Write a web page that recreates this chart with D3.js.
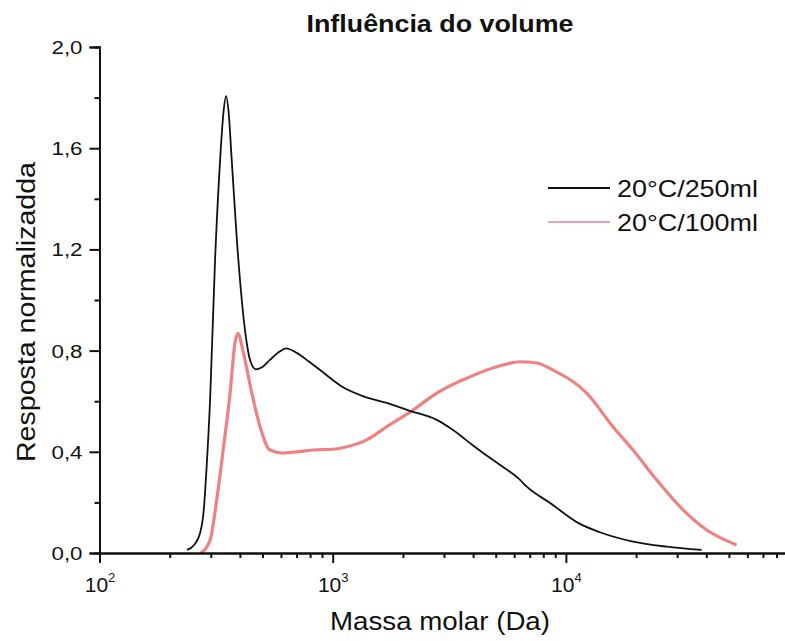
<!DOCTYPE html>
<html>
<head>
<meta charset="utf-8">
<script src="https://cdn.jsdelivr.net/npm/d3@7"></script>
<style>
html,body{margin:0;padding:0;background:#fff;}
svg{display:block;overflow:hidden;}
text{font-family:"Liberation Sans",Arial,sans-serif;fill:#111;}
</style>
</head>
<body>
<svg id="chart" width="785" height="641"></svg>
<script>
// ---- data ----
const title = "Influência do volume";
const xLabel = "Massa molar (Da)";
const yLabel = "Resposta normalizadda";
const seriesNames = ["20°C/250ml", "20°C/100ml"];
const seriesColors = ["#111111", "#ee8282"];

const mass250 = [237, 255, 270, 280, 288, 298, 313, 329, 340, 349, 358, 369, 394, 428, 442, 469, 500, 538, 590, 631, 701, 790, 883, 1107, 1349, 1705, 2145, 2792, 3280, 3998, 4575, 5221, 6357, 6795, 8551, 11490, 13990, 19400, 27070, 38200];
const resp250 = [0.012, 0.033, 0.079, 0.17, 0.341, 0.605, 1.158, 1.553, 1.74, 1.806, 1.74, 1.553, 1.158, 0.830, 0.763, 0.726, 0.735, 0.763, 0.795, 0.809, 0.791, 0.757, 0.723, 0.655, 0.62, 0.593, 0.562, 0.526, 0.486, 0.425, 0.385, 0.348, 0.289, 0.262, 0.198, 0.115, 0.082, 0.045, 0.025, 0.012];

const mass100 = [272, 298, 318, 339, 363, 381, 392, 414, 450, 488, 538, 612, 700, 823, 1000, 1149, 1400, 1705, 2210, 2792, 3880, 5375, 6357, 7497, 8810, 12280, 15920, 19400, 24500, 30830, 40180, 53950];
const resp100 = [0.0, 0.051, 0.209, 0.407, 0.632, 0.830, 0.868, 0.791, 0.632, 0.499, 0.407, 0.395, 0.400, 0.407, 0.410, 0.420, 0.447, 0.499, 0.565, 0.632, 0.697, 0.743, 0.756, 0.751, 0.723, 0.632, 0.499, 0.407, 0.289, 0.183, 0.091, 0.032];

const xMajorTicks = [100, 1000, 10000];
const xMajorLabels = ["2", "3", "4"]; // exponents of 10
const xMinorTicks = [200,300,400,500,600,700,800,900,2000,3000,4000,5000,6000,7000,8000,9000,20000,30000,40000,50000,60000,70000,80000,90000];
const yMajorTicks = [0, 0.4, 0.8, 1.2, 1.6, 2.0];
const yMajorLabels = ["0,0", "0,4", "0,8", "1,2", "1,6", "2,0"];
const yMinorTicks = [0.2, 0.6, 1.0, 1.4, 1.8];

// ---- layout ----
const svg = d3.select("#chart");
const x = d3.scaleLog().domain([100, 100000]).range([99.5, 799.1]);
const y = d3.scaleLinear().domain([0, 2]).range([553, 47]);

// curves
const line = d3.line().x(d => x(d[0])).y(d => y(d[1])).curve(d3.curveMonotoneX);
const data250 = mass250.map((m, i) => [m, resp250[i]]);
const data100 = mass100.map((m, i) => [m, resp100[i]]);

svg.append("path").datum(data100).attr("d", line)
  .attr("fill", "none").attr("stroke", seriesColors[1]).attr("stroke-width", 3.2).attr("stroke-linejoin", "round");
svg.append("path").datum(data250).attr("d", line)
  .attr("fill", "none").attr("stroke", seriesColors[0]).attr("stroke-width", 1.8).attr("stroke-linejoin", "round");

// axes
const gx = svg.append("g").attr("transform", `translate(0,${y(0)})`);
gx.call(d3.axisBottom(x).tickValues(xMinorTicks).tickSize(5).tickFormat(""));
const gxM = svg.append("g").attr("transform", `translate(0,${y(0)})`);
gxM.call(d3.axisBottom(x).tickValues(xMajorTicks).tickSize(10).tickFormat(""));
gxM.selectAll(".tick").append("text")
  .attr("y", 39).attr("text-anchor", "middle").attr("font-size", 21)
  .attr("font-family", "Liberation Sans, Arial, sans-serif").attr("fill", "#222")
  .each(function(d, i) {
    const t = d3.select(this);
    t.append("tspan").text("10");
    t.append("tspan").attr("font-size", 13).attr("dy", -10).text(xMajorLabels[i]);
  });

const gy = svg.append("g").attr("transform", `translate(${x(100)},0)`);
gy.call(d3.axisLeft(y).tickValues(yMinorTicks).tickSize(5).tickFormat(""));
const gyM = svg.append("g").attr("transform", `translate(${x(100)},0)`);
gyM.call(d3.axisLeft(y).tickValues(yMajorTicks).tickSize(10).tickFormat((d, i) => yMajorLabels[i]));
gyM.selectAll("text").attr("x", -17).attr("font-size", 18).attr("dy", "0.36em")
  .attr("textLength", 31).attr("lengthAdjust", "spacingAndGlyphs")
  .attr("font-family", "Liberation Sans, Arial, sans-serif").attr("fill", "#222");

svg.selectAll(".domain").attr("stroke", "#111").attr("stroke-width", 2);
svg.selectAll(".tick line").attr("stroke", "#111").attr("stroke-width", 2);

// titles
svg.append("text").attr("x", 440).attr("y", 32).attr("text-anchor", "middle")
  .attr("font-size", 23).attr("font-weight", "bold").attr("textLength", 267).attr("lengthAdjust", "spacingAndGlyphs").text(title);
svg.append("text").attr("x", 440).attr("y", 630).attr("text-anchor", "middle")
  .attr("font-size", 25).attr("fill", "#222").attr("textLength", 220).attr("lengthAdjust", "spacingAndGlyphs").text(xLabel);
svg.append("text").attr("transform", "translate(35,312) rotate(-90)").attr("text-anchor", "middle")
  .attr("font-size", 25).attr("fill", "#222").attr("textLength", 300).attr("lengthAdjust", "spacingAndGlyphs").text(yLabel);

// legend
const legendY = [188, 222];
const lg = svg.append("g");
seriesNames.forEach((name, i) => {
  lg.append("line").attr("x1", 548).attr("x2", 610).attr("y1", legendY[i]).attr("y2", legendY[i])
    .attr("stroke", i === 0 ? "#111" : "#e4a6ae").attr("stroke-width", 2);
  lg.append("text").attr("x", 617).attr("y", legendY[i] + 8.5).attr("font-size", 24).attr("fill", "#222")
    .attr("textLength", 141).attr("lengthAdjust", "spacingAndGlyphs").text(name);
});
</script>
</body>
</html>
